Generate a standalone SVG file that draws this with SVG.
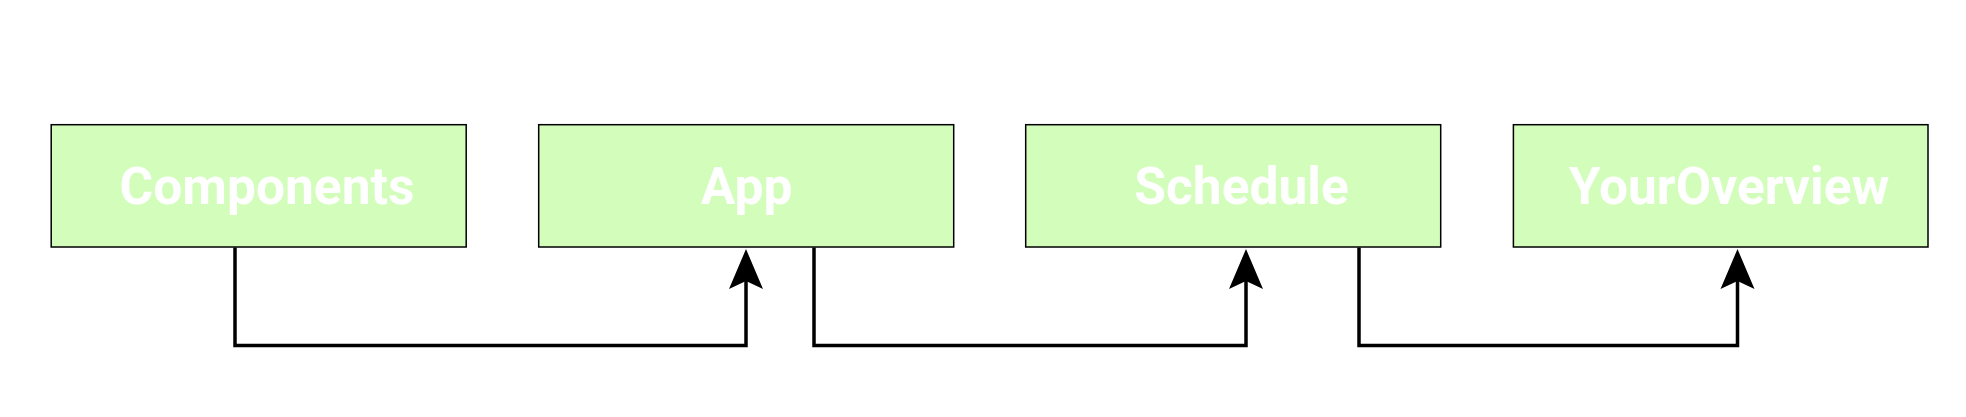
<svg xmlns="http://www.w3.org/2000/svg" width="1966" height="417" viewBox="0 0 1966 417">
  <style>
    .box { fill: #d2fdbb; stroke: #000000; stroke-width: 1.5; }
    .label { font-family: Roboto, "Liberation Sans", sans-serif; font-weight: bold; font-size: 51.5px; fill: #ffffff; text-anchor: middle; }
    .conn { fill: none; stroke: #000000; stroke-width: 3.5; marker-end: url(#arrow); }
  </style>
  <defs>
    <marker id="arrow" markerUnits="userSpaceOnUse" markerWidth="40" markerHeight="34" viewBox="0 0 40 34" refX="8" refY="17" orient="auto" overflow="visible">
      <path d="M0,0 L40,17 L0,34 L8,17 Z" fill="#000000"/>
    </marker>
  </defs>
  <rect width="1966" height="417" fill="#ffffff"/>
  <g id="node-components">
    <rect class="box" x="51.2" y="124.7" width="415" height="122.3"/>
    <text class="label" x="267" y="204">Components</text>
  </g>
  <g id="node-app">
    <rect class="box" x="538.7" y="124.7" width="415" height="122.3"/>
    <text class="label" x="746.5" y="204">App</text>
  </g>
  <g id="node-schedule">
    <rect class="box" x="1025.7" y="124.7" width="415" height="122.3"/>
    <text class="label" x="1241.5" y="204">Schedule</text>
  </g>
  <g id="node-youroverview">
    <rect class="box" x="1513.4" y="124.7" width="414.6" height="122.3"/>
    <text class="label" x="1729" y="204">YourOverview</text>
  </g>
  <g id="connectors">
    <path class="conn" d="M235,247.5 V345.5 H746 V281"/>
    <path class="conn" d="M814,247.5 V345.5 H1246 V281"/>
    <path class="conn" d="M1359,247.5 V345.5 H1737.5 V281"/>
  </g>
</svg>
